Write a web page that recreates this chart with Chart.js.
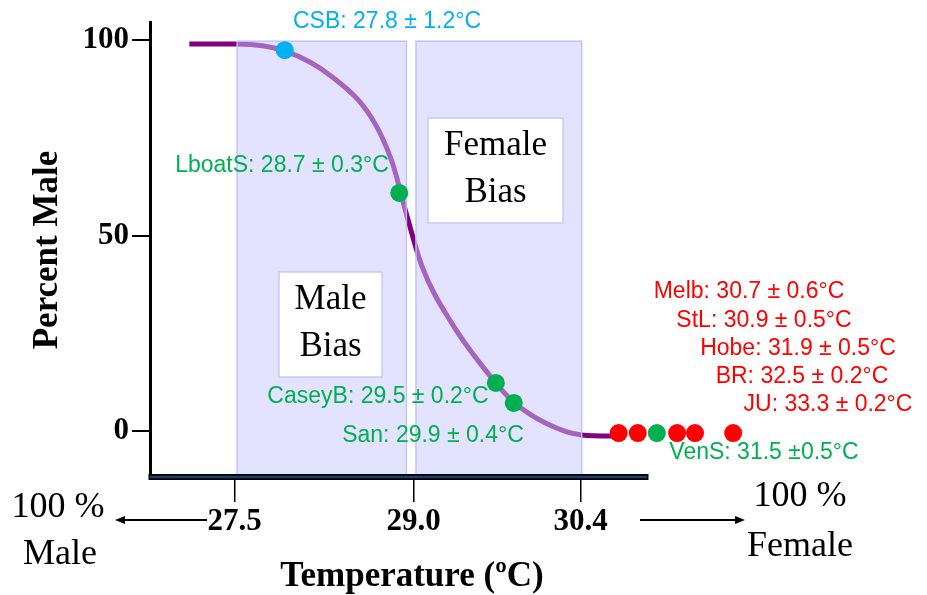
<!DOCTYPE html>
<html>
<head>
<meta charset="utf-8">
<script src="https://cdn.jsdelivr.net/npm/chart.js@4/dist/chart.umd.min.js"></script>
<style>
  html, body { margin: 0; padding: 0; background: #fff; }
  #wrap { width: 927px; height: 595px; }
</style>
</head>
<body>
<div id="wrap"><canvas id="tsdChart"></canvas></div>
<script>
// sex ratio curve (schematic)
const curveTemp = [27.12, 27.52, 27.92, 28.32, 28.65, 28.82, 28.94, 29.07, 29.32, 29.69, 29.84, 30.11, 30.41, 30.72];
const curveMale = [99.0, 99.0, 97.2, 90.5, 80.0, 68.8, 55.5, 42.2, 27.6, 12.3, 7.4, 2.0, -1.0, -1.3];

// nesting sites, pivotal temperature +- error
const sites     = ['CSB', 'LboatS', 'CaseyB', 'San', 'Melb', 'StL', 'VenS', 'Hobe', 'BR', 'JU'];
const siteMean  = [27.8, 28.7, 29.5, 29.9, 30.7, 30.9, 31.5, 31.9, 32.5, 33.3];
const siteErr   = [1.2, 0.3, 0.2, 0.4, 0.6, 0.5, 0.5, 0.5, 0.2, 0.2];
const siteX     = [27.92, 28.88, 29.69, 29.84, 30.72, 30.88, 31.04, 31.21, 31.36, 31.68];
const siteY     = [97.4, 60.9, 12.3, 7.2, -0.5, -0.5, -0.5, -0.5, -0.5, -0.5];
const siteGroup = ['blue', 'green', 'green', 'green', 'red', 'red', 'green', 'red', 'red', 'red'];

const xTicks = [27.5, 29.0, 30.4];
const yTicks = [0, 50, 100];

// shaded bias windows
const biasRanges = [[27.52, 28.94], [29.02, 30.41]];
const biasTop = 99.7;

const groupColor = { blue: '#00b0f0', green: '#00b050', red: '#ff0000' };
const labelAt = {
  CSB: [387, 22], LboatS: [282, 166], CaseyB: [378, 397], San: [433, 436],
  Melb: [749, 292], StL: [764, 321], Hobe: [798, 349], BR: [802, 377], JU: [828, 405], VenS: [764, 453]
};
const serif = '"Liberation Serif", "Times New Roman", serif';
const axisEnd = 30.97;

function arrow(ctx, x0, x1, y) {
  const dir = Math.sign(x1 - x0);
  ctx.beginPath();
  ctx.moveTo(x0, y);
  ctx.lineTo(x1 - dir * 8, y);
  ctx.stroke();
  ctx.beginPath();
  ctx.moveTo(x1, y);
  ctx.lineTo(x1 - dir * 10, y - 4);
  ctx.lineTo(x1 - dir * 10, y + 4);
  ctx.closePath();
  ctx.fill();
}

const figurePlugin = {
  id: 'figure',
  afterDatasetDraw(chart, args) {
    if (args.index !== 0) return;
    // the shading sits on top of the curve
    const { ctx, chartArea, scales: { x, y } } = chart;
    ctx.save();
    const top = y.getPixelForValue(biasTop);
    biasRanges.forEach(r => {
      const x0 = x.getPixelForValue(r[0]);
      const x1 = x.getPixelForValue(r[1]);
      ctx.fillStyle = 'rgba(200,200,255,0.5)';
      ctx.fillRect(x0, top, x1 - x0, chartArea.bottom - 3 - top);
      ctx.strokeStyle = 'rgba(190,190,255,0.9)';
      ctx.lineWidth = 1.5;
      ctx.strokeRect(x0, top, x1 - x0, chartArea.bottom - 3 - top);
    });
    ctx.restore();
  },
  afterDatasetsDraw(chart) {
    const { ctx, chartArea, scales: { x } } = chart;
    ctx.save();

    // x axis bar
    const xr = x.getPixelForValue(axisEnd);
    ctx.strokeStyle = '#000';
    ctx.lineWidth = 6;
    ctx.beginPath();
    ctx.moveTo(chartArea.left - 1.5, chartArea.bottom - 1);
    ctx.lineTo(xr, chartArea.bottom - 1);
    ctx.stroke();
    ctx.strokeStyle = '#1f3d6e';
    ctx.lineWidth = 2.5;
    ctx.beginPath();
    ctx.moveTo(chartArea.left, chartArea.bottom - 1);
    ctx.lineTo(xr - 1.5, chartArea.bottom - 1);
    ctx.stroke();

    // bias boxes
    ctx.textAlign = 'center';
    ctx.textBaseline = 'middle';
    ctx.font = '35px ' + serif;
    [[279, 272, 103, 105, ['Male', 'Bias']], [428, 118, 135, 105, ['Female', 'Bias']]].forEach(b => {
      ctx.fillStyle = '#fff';
      ctx.fillRect(b[0], b[1], b[2], b[3]);
      ctx.strokeStyle = 'rgba(200,200,255,1)';
      ctx.lineWidth = 1.5;
      ctx.strokeRect(b[0], b[1], b[2], b[3]);
      ctx.fillStyle = '#000';
      ctx.fillText(b[4][0], b[0] + b[2] / 2, b[1] + 28);
      ctx.fillText(b[4][1], b[0] + b[2] / 2, b[1] + 75);
    });

    // site labels
    ctx.font = '23px "Liberation Sans", Arial, sans-serif';
    sites.forEach((s, i) => {
      const p = labelAt[s];
      ctx.fillStyle = groupColor[siteGroup[i]];
      const pm = s === 'VenS' ? ' \u00b1' : ' \u00b1 ';
      ctx.fillText(s + ': ' + siteMean[i].toFixed(1) + pm + siteErr[i].toFixed(1) + '\u00b0C', p[0], p[1]);
    });

    // x axis title, centred under the ticks rather than the full plot width
    ctx.fillStyle = '#000';
    ctx.font = 'bold 35px ' + serif;
    ctx.fillText('Temperature (\u00baC)', 412, 577);

    // 100 % male / female arrows
    ctx.strokeStyle = '#000';
    ctx.lineWidth = 1.8;
    ctx.font = '36px ' + serif;
    ctx.fillText('100 %', 58, 508);
    ctx.fillText('Male', 60, 555);
    ctx.fillText('100 %', 800, 497);
    ctx.fillText('Female', 800, 547);
    arrow(ctx, 207, 115, 520);
    arrow(ctx, 640, 745, 520);

    ctx.restore();
  }
};

const ctx = document.getElementById('tsdChart').getContext('2d');
const tsdChart = new Chart(ctx, {
  type: 'scatter',
  data: {
    datasets: [{
      label: 'Percent Male',
      data: curveTemp.map((t, i) => ({ x: t, y: curveMale[i] })),
      showLine: true,
      borderColor: '#800080',
      borderWidth: 5,
      pointRadius: 0,
      cubicInterpolationMode: 'monotone',
      order: 2
    }, {
      label: 'Sites',
      data: sites.map((s, i) => ({ x: siteX[i], y: siteY[i] })),
      showLine: false,
      pointRadius: 9,
      pointBorderWidth: 0,
      pointBackgroundColor: siteGroup.map(g => groupColor[g]),
      order: 1
    }]
  },
  options: {
    responsive: true,
    maintainAspectRatio: false,
    animation: false,
    layout: { padding: { top: 22, right: 7, left: 0, bottom: 0 } },
    plugins: { legend: { display: false }, tooltip: { enabled: false } },
    scales: {
      x: {
        type: 'linear',
        min: 26.79,
        max: 33.23,
        afterBuildTicks: s => { s.ticks = xTicks.map(v => ({ value: v })); },
        afterFit: s => { s.height = 117; },
        ticks: {
          callback: v => Number(v).toFixed(1),
          font: { family: serif, size: 31, weight: 'bold' },
          color: '#000',
          padding: 1,
          maxRotation: 0,
          autoSkip: false
        },
        grid: { display: true, drawOnChartArea: false, drawTicks: true, tickLength: 24, color: '#000', lineWidth: 1.5 },
        border: { display: false }
      },
      y: {
        type: 'linear',
        min: -12,
        max: 104.6,
        afterBuildTicks: s => { s.ticks = yTicks.map(v => ({ value: v })); },
        afterFit: s => { s.width = 150; },
        ticks: {
          font: { family: serif, size: 31, weight: 'bold' },
          color: '#000',
          padding: 3
        },
        grid: { display: true, drawOnChartArea: false, drawTicks: true, tickLength: 18, color: '#000', lineWidth: 2 },
        border: { display: true, color: '#000', width: 3 },
        title: {
          display: true,
          text: 'Percent Male',
          font: { family: serif, size: 35, weight: 'bold' },
          color: '#000',
          padding: { top: 27, bottom: 0 }
        }
      }
    }
  },
  plugins: [figurePlugin]
});
</script>
</body>
</html>
